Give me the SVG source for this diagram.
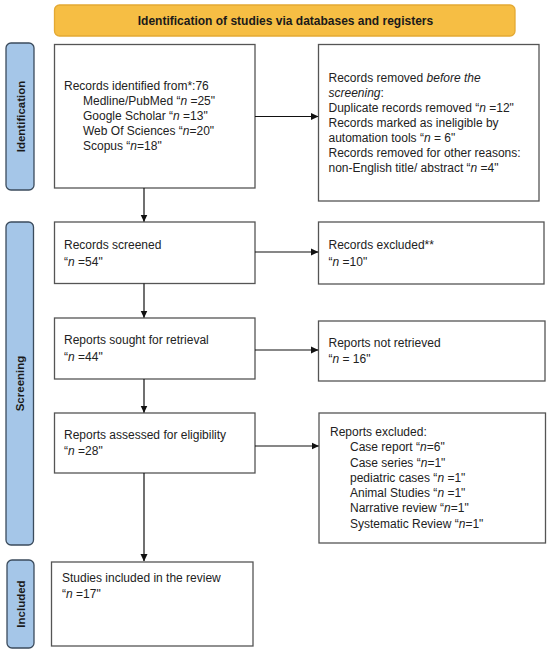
<svg xmlns="http://www.w3.org/2000/svg" width="550" height="656" viewBox="0 0 550 656">
<style>
text{font-family:"Liberation Sans",Arial,sans-serif;font-size:12px;fill:#222}
.i{font-style:italic}
.box{fill:#fff;stroke:#555;stroke-width:1.3}
.side{fill:#a5c6e8;stroke:#3b4b5c;stroke-width:1.3}
.sl{font-weight:bold;font-size:11.5px;fill:#1a1a1a}
.con{stroke:#111;stroke-width:1.2;fill:none}
</style>
<defs>
<marker id="ah" markerWidth="8" markerHeight="8" refX="7" refY="4" orient="auto" markerUnits="userSpaceOnUse">
<path d="M0,0.5 L7.5,4 L0,7.5 Z" fill="#111"/>
</marker>
</defs>
<rect width="550" height="656" fill="#fff"/>

<g id="header">
<rect x="54.5" y="5" width="460.5" height="31" rx="5" fill="#f6be44" stroke="#e4a933" stroke-width="1.3"/>
<text x="285.5" y="24.5" text-anchor="middle" style="font-weight:bold;font-size:12px;fill:#1a1a1a">Identification of studies via databases and registers</text>
</g>

<g id="side-identification">
<rect class="side" x="6" y="43" width="28" height="147" rx="5"/>
<text class="sl" transform="translate(24.5,116.5) rotate(-90)" text-anchor="middle">Identification</text>
</g>
<g id="side-screening">
<rect class="side" x="6" y="222" width="27.5" height="323" rx="5"/>
<text class="sl" transform="translate(24,383.5) rotate(-90)" text-anchor="middle">Screening</text>
</g>
<g id="side-included">
<rect class="side" x="7" y="560" width="27" height="88" rx="5"/>
<text class="sl" transform="translate(24.5,604) rotate(-90)" text-anchor="middle">Included</text>
</g>

<g id="records-identified">
<rect class="box" x="54.5" y="44.5" width="200.5" height="143.5"/>
<text x="64" y="90">Records identified from*:76</text>
<text x="83" y="105">Medline/PubMed “<tspan class="i">n</tspan> =25"</text>
<text x="83" y="120">Google Scholar “<tspan class="i">n</tspan> =13"</text>
<text x="83" y="135">Web Of Sciences “<tspan class="i">n</tspan>=20"</text>
<text x="83" y="150">Scopus “<tspan class="i">n</tspan>=18"</text>
</g>

<g id="records-removed">
<rect class="box" x="318.5" y="44.5" width="220.5" height="156.5"/>
<text x="328.5" y="82">Records removed <tspan class="i">before the</tspan></text>
<text x="328.5" y="97"><tspan class="i">screening</tspan>:</text>
<text x="328.5" y="112">Duplicate records removed “<tspan class="i">n</tspan> =12"</text>
<text x="328.5" y="127">Records marked as ineligible by</text>
<text x="328.5" y="142">automation tools “<tspan class="i">n</tspan> = 6"</text>
<text x="328.5" y="157">Records removed for other reasons:</text>
<text x="328.5" y="172">non-English title/ abstract “<tspan class="i">n</tspan> =4"</text>
</g>

<g id="records-screened">
<rect class="box" x="54.5" y="222" width="200.5" height="61.5"/>
<text x="64" y="249">Records screened</text>
<text x="64" y="266">“<tspan class="i">n</tspan> =54"</text>
</g>

<g id="records-excluded">
<rect class="box" x="318.5" y="222" width="225.5" height="62"/>
<text x="328.5" y="249">Records excluded**</text>
<text x="328.5" y="266">“<tspan class="i">n</tspan> =10"</text>
</g>

<g id="reports-sought">
<rect class="box" x="54.5" y="318" width="200.5" height="61"/>
<text x="64" y="344">Reports sought for retrieval</text>
<text x="64" y="361">“<tspan class="i">n</tspan> =44"</text>
</g>

<g id="reports-not-retrieved">
<rect class="box" x="318.5" y="321" width="226.5" height="60"/>
<text x="328.5" y="347">Reports not retrieved</text>
<text x="328.5" y="363">“<tspan class="i">n</tspan> = 16"</text>
</g>

<g id="reports-assessed">
<rect class="box" x="54.5" y="413" width="200.5" height="60"/>
<text x="64" y="439">Reports assessed for eligibility</text>
<text x="64" y="455">“<tspan class="i">n</tspan> =28"</text>
</g>

<g id="reports-excluded">
<rect class="box" x="319" y="413" width="226.5" height="130"/>
<text x="330" y="436">Reports excluded:</text>
<text x="350" y="451">Case report “<tspan class="i">n</tspan>=6"</text>
<text x="350" y="466.5">Case series “<tspan class="i">n</tspan>=1"</text>
<text x="350" y="481.5">pediatric cases “<tspan class="i">n</tspan> =1"</text>
<text x="350" y="496.5">Animal Studies “<tspan class="i">n</tspan> =1"</text>
<text x="350" y="512">Narrative review “<tspan class="i">n</tspan>=1"</text>
<text x="350" y="527.5">Systematic Review “<tspan class="i">n</tspan>=1"</text>
</g>

<g id="studies-included">
<rect class="box" x="51.5" y="562" width="201.5" height="84"/>
<text x="62" y="582">Studies included in the review</text>
<text x="62" y="598">“<tspan class="i">n</tspan> =17"</text>
</g>

<g id="connectors">
<line class="con" x1="255" y1="116.5" x2="318" y2="116.5" marker-end="url(#ah)"/>
<line class="con" x1="144" y1="188" x2="144" y2="221.5" marker-end="url(#ah)"/>
<line class="con" x1="255" y1="252" x2="318" y2="252" marker-end="url(#ah)"/>
<line class="con" x1="144" y1="283.5" x2="144" y2="317.5" marker-end="url(#ah)"/>
<line class="con" x1="255" y1="350" x2="318" y2="350" marker-end="url(#ah)"/>
<line class="con" x1="144" y1="379" x2="144" y2="412.5" marker-end="url(#ah)"/>
<line class="con" x1="255" y1="446" x2="318.5" y2="446" marker-end="url(#ah)"/>
<line class="con" x1="144" y1="473" x2="144" y2="561" marker-end="url(#ah)"/>
</g>
</svg>
